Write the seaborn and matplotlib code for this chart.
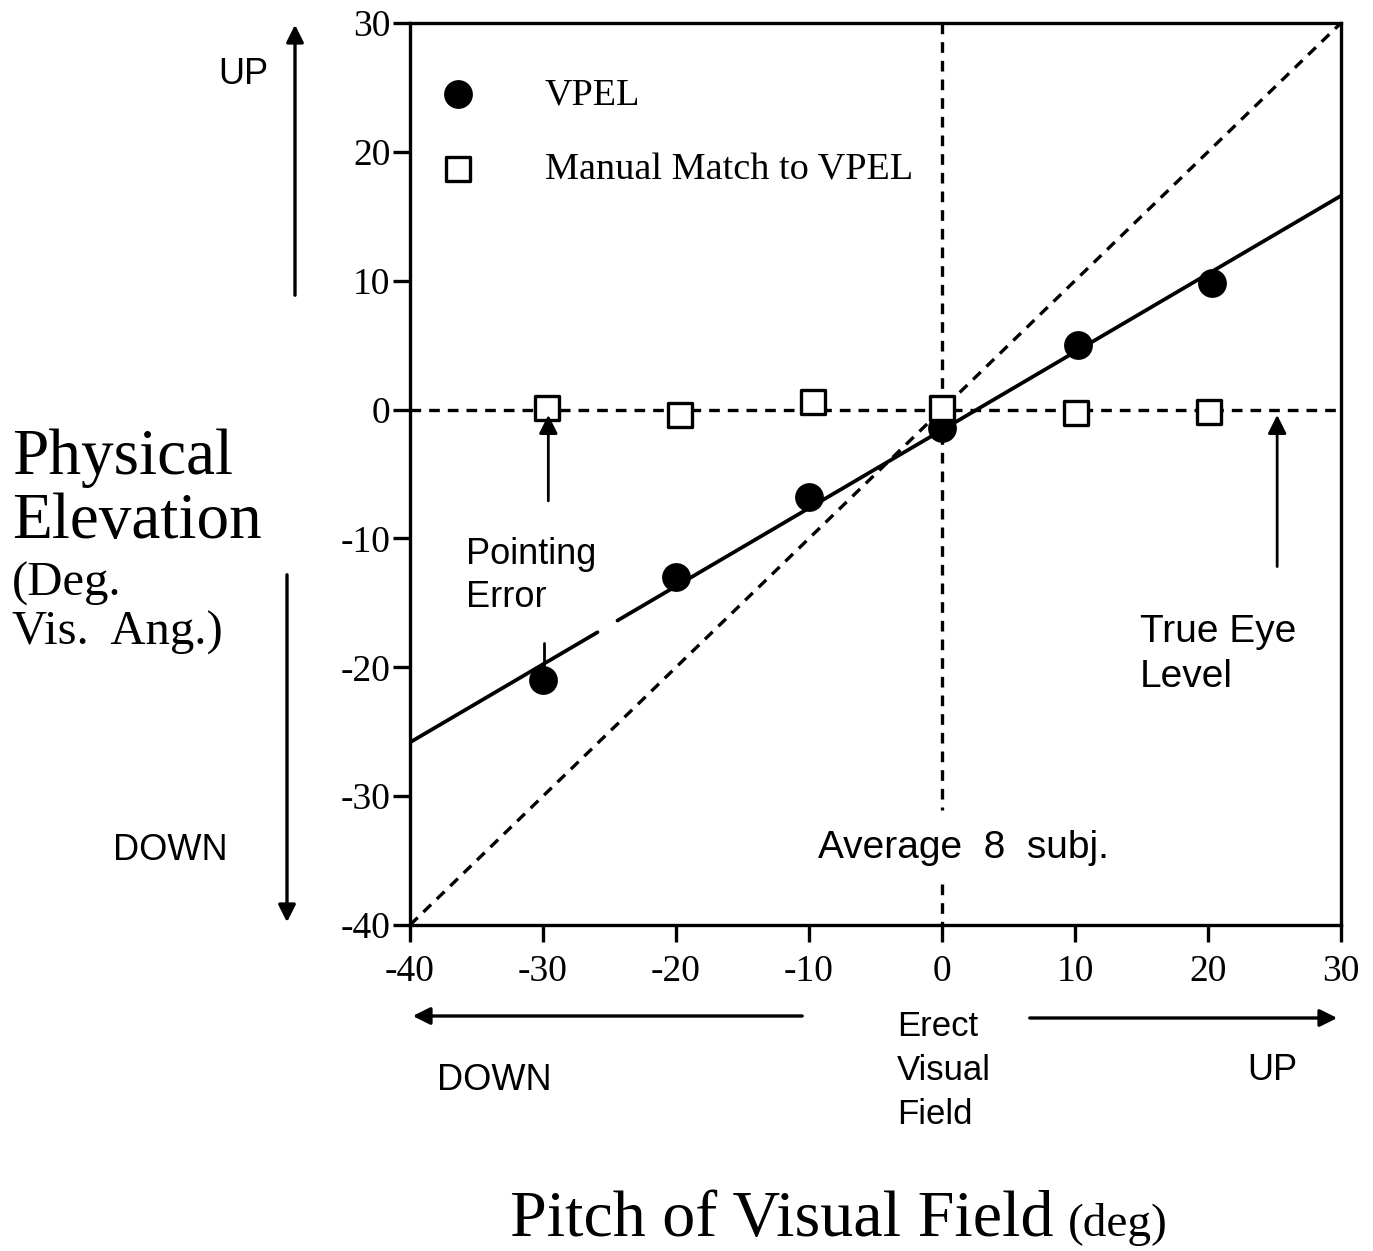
import numpy as np
import pandas as pd
import matplotlib
matplotlib.use("Agg")
import matplotlib.pyplot as plt
import seaborn as sns

# Mean physical elevation of the visually perceived eye level (VPEL)
pitch_vpel = [-30.0, -20.0, -10.0, 0.0, 10.2, 20.3]
vpel = [-21.0, -13.0, -6.8, -1.4, 5.0, 9.8]

# Manual pointing to the perceived eye level
pitch_manual = [-29.7, -19.7, -9.7, 0.0, 10.1, 20.1]
manual = [0.1, -0.4, 0.6, 0.1, -0.3, -0.15]

x_ticks = [-40, -30, -20, -10, 0, 10, 20, 30]
y_ticks = [-40, -30, -20, -10, 0, 10, 20, 30]

sns.set_style("ticks")
plt.rcParams["font.family"] = ["Liberation Serif", "DejaVu Serif"]
plt.rcParams["axes.linewidth"] = 2.2
plt.rcParams["text.color"] = "black"
plt.rcParams["axes.labelcolor"] = "black"
plt.rcParams["xtick.color"] = "black"
plt.rcParams["ytick.color"] = "black"
plt.rcParams["axes.edgecolor"] = "black"
SANS = ["Liberation Sans", "DejaVu Sans"]

W, H = 1373, 1251
fig = plt.figure(figsize=(W / 100, H / 100), dpi=100)
fig.patch.set_facecolor("white")

left, right, top, bottom = 410, 1341, 23, 925
ax = fig.add_axes([left / W, 1 - bottom / H, (right - left) / W, (bottom - top) / H])


def fpos(px, py):
    """Top-left pixel position -> figure fraction."""
    return px / W, 1 - py / H


df_vpel = pd.DataFrame({"pitch": pitch_vpel, "elev": vpel})
df_man = pd.DataFrame({"pitch": pitch_manual, "elev": manual})

dash = dict(color="black", lw=2.4, dashes=(3.2, 2.4))

# Reference lines: true eye level, erect field, and veridical (slope 1)
ax.axhline(0, zorder=1, **dash)
ax.plot([0, 0], [30, -31.1], zorder=1, **dash)
ax.plot([0, 0], [-36.8, -40], zorder=1, **dash)
ax.plot([-40, 30], [-40, 30], zorder=1, **dash)

# Least-squares fit through the VPEL means
slope, intercept = np.polyfit(pitch_vpel, vpel, 1)
for x0, x1 in [(-40, -25.9), (-24.4, 30)]:
    seg = pd.DataFrame({"pitch": [x0, x1]})
    seg["elev"] = slope * seg["pitch"] + intercept
    sns.lineplot(data=seg, x="pitch", y="elev", ax=ax, color="black", lw=2.7, zorder=2)

sns.scatterplot(data=df_vpel, x="pitch", y="elev", ax=ax, marker="o", s=430,
                color="black", edgecolor="black", linewidth=0, zorder=4, label="VPEL")
sns.scatterplot(data=df_man, x="pitch", y="elev", ax=ax, marker="s", s=320,
                facecolor="white", edgecolor="black", linewidth=2.4, zorder=4,
                label="Manual Match to VPEL")

ax.set_xlim(-40, 30)
ax.set_ylim(-40, 30)
ax.set_xticks(x_ticks)
ax.set_yticks(y_ticks)
ax.set_xticklabels([str(t) for t in x_ticks])
ax.set_yticklabels([str(t) for t in y_ticks])
ax.tick_params(axis="both", labelsize=27, width=2.4, length=12, direction="out",
               colors="black")
ax.tick_params(axis="y", pad=2)
ax.tick_params(axis="x", pad=9)
ax.set_xlabel("")
ax.set_ylabel("")
for sp in ax.spines.values():
    sp.set_visible(True)
    sp.set_color("black")
    sp.set_linewidth(2.4)

leg = ax.legend(loc="upper left", bbox_to_anchor=(-0.008, 0.98), frameon=False,
                fontsize=27.5, handlelength=1.0, handletextpad=1.78, labelspacing=1.06,
                borderaxespad=0.55)
for t in leg.get_texts():
    t.set_color("black")

# In-plot annotations
arrow = dict(arrowstyle="-|>", color="black", lw=2.0, mutation_scale=28)
ax.annotate("", xy=(-29.6, -0.2), xytext=(-29.6, -7.3), arrowprops=arrow, zorder=5)
ax.plot([-29.9, -29.9], [-18.1, -19.9], color="black", lw=2.0, zorder=5)
ax.text(-35.8, -12.9, "Pointing\nError", family=SANS, fontsize=26, ha="left",
        va="center", linespacing=1.3)

ax.annotate("", xy=(25.2, -0.2), xytext=(25.2, -12.4), arrowprops=arrow, zorder=5)
ax.text(14.85, -19.0, "True Eye\nLevel", family=SANS, fontsize=28, ha="left",
        va="center", linespacing=1.3)

ax.text(1.6, -34.0, "Average  8  subj.", family=SANS, fontsize=28, ha="center",
        va="center")

# Direction arrows outside the axes
for (x0, y0), (x1, y1) in [((295, 298), (295, 22)), ((287, 572), (287, 925)),
                           ((805, 1016), (410, 1016)), ((1027, 1018), (1340, 1018))]:
    fig.add_artist(matplotlib.patches.FancyArrowPatch(
        fpos(x0, y0), fpos(x1, y1), transform=fig.transFigure,
        arrowstyle="-|>", mutation_scale=26, lw=2.4, color="black"))

fig.text(*fpos(243, 75), "UP", family=SANS, fontsize=26, ha="center", va="center")
fig.text(*fpos(170, 850), "DOWN", family=SANS, fontsize=26, ha="center", va="center")
fig.text(*fpos(494, 1080), "DOWN", family=SANS, fontsize=26, ha="center", va="center")
fig.text(*fpos(1272, 1070), "UP", family=SANS, fontsize=26, ha="center", va="center")

for label, py in [("Erect", 1027), ("Visual", 1071), ("Field", 1114)]:
    fig.text(*fpos(897, py), label, family=SANS, fontsize=25, ha="left", va="center")

# Axis titles
fig.text(*fpos(12, 474), "Physical", fontsize=47, ha="left", va="baseline")
fig.text(*fpos(12, 538), "Elevation", fontsize=47, ha="left", va="baseline")
fig.text(*fpos(12, 596), "(Deg.", fontsize=35, ha="left", va="baseline")
fig.text(*fpos(12, 645), "Vis.  Ang.)", fontsize=35, ha="left", va="baseline")

fig.text(*fpos(510, 1236), "Pitch of Visual Field", fontsize=47.5, ha="left", va="baseline")
fig.text(*fpos(1068, 1236), "(deg)", fontsize=34, ha="left", va="baseline")

fig.savefig("out.png", dpi=100, facecolor="white")
